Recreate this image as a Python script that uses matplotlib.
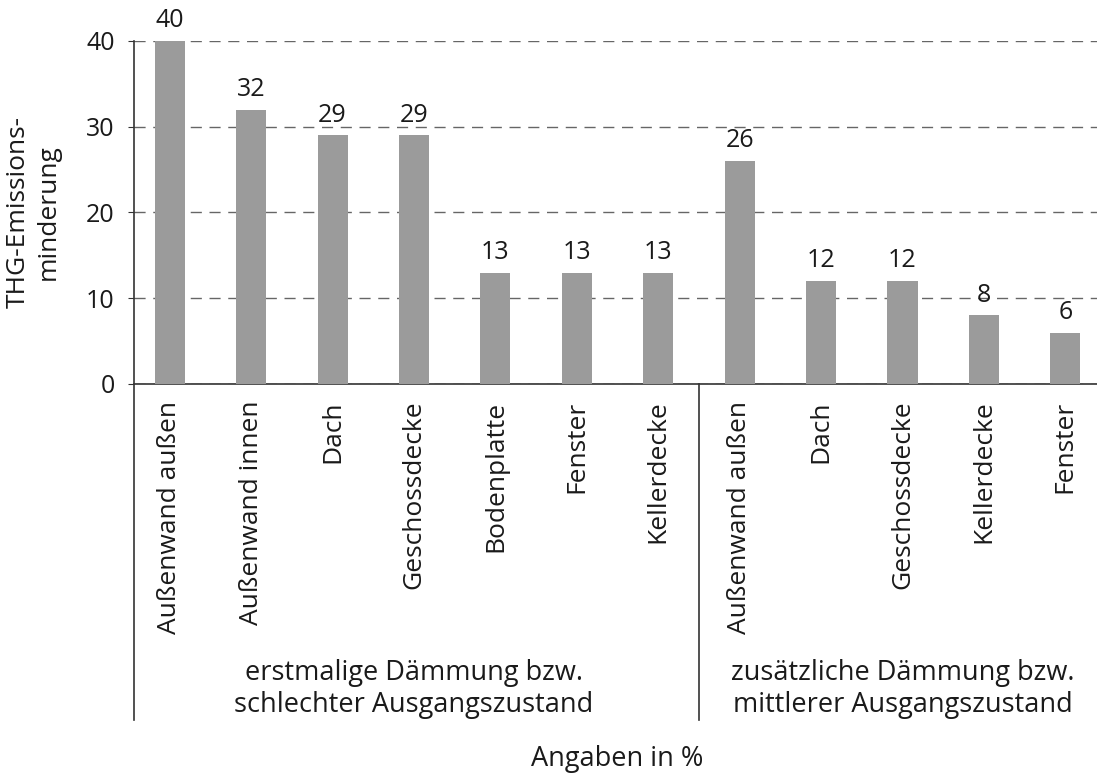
import matplotlib
matplotlib.use("Agg")
import matplotlib.pyplot as plt
import matplotlib.transforms as mtransforms

plt.rcParams['font.family'] = ['Open Sans', 'DejaVu Sans']

categories = ["Außenwand außen", "Außenwand innen", "Dach", "Geschossdecke",
              "Bodenplatte", "Fenster", "Kellerdecke",
              "Außenwand außen", "Dach", "Geschossdecke", "Kellerdecke", "Fenster"]
values = [40, 32, 29, 29, 13, 13, 13, 26, 12, 12, 8, 6]
group_labels = ["erstmalige Dämmung bzw.\nschlechter Ausgangszustand",
                "zusätzliche Dämmung bzw.\nmittlerer Ausgangszustand"]
group_sizes = [7, 5]
yticks = [0, 10, 20, 30, 40]

TXT = "#1a1a1a"
fig = plt.figure(figsize=(10.97, 7.73), dpi=100)
ax = fig.add_axes([134/1097, 1-384/773, 1-134/1097, (384-41)/773])

x = list(range(len(values)))
ax.bar(x, values, width=0.37, color="#9b9b9b", zorder=3)
for xi, v in zip(x, values):
    ax.text(xi, v + 0.9, str(v), ha="center", va="bottom", fontsize=18, color=TXT)

ax.set_xlim(-0.44, len(values) - 0.61)
ax.set_ylim(0, 40)
ax.set_yticks(yticks)
ax.set_yticklabels([str(t) for t in yticks], fontsize=18, color=TXT)
ax.tick_params(axis="y", length=4, pad=10, color="#333333")
ax.set_xticks(x)
ax.set_xticklabels(categories, rotation=90, fontsize=19, color=TXT, va="top")
ax.tick_params(axis="x", length=0, pad=12)

ax.yaxis.grid(True, linestyle=(0, (8, 5.5)), color="#666666", linewidth=1.0, zorder=0)
ax.set_axisbelow(True)
for s in ["top", "right", "left"]:
    ax.spines[s].set_visible(False)
ax.spines["bottom"].set_color("#333333")
ax.spines["bottom"].set_linewidth(1.2)

trans = mtransforms.blended_transform_factory(ax.transData, ax.transAxes)
ybot = (384 - 720) / (384 - 41)
xl = ax.get_xlim()[0]
ax.plot([xl, xl], [1.0, ybot], transform=trans, color="#333333", lw=1.2, clip_on=False)
sep = group_sizes[0] - 0.5
ax.plot([sep, sep], [0, ybot], transform=trans, color="#333333", lw=1.2, clip_on=False)

start = 0
for lab, n in zip(group_labels, group_sizes):
    center = start + (n - 1) / 2
    ax.text(center, (384 - 689) / (384 - 41), lab, transform=trans, ha="center", va="center",
            fontsize=19.5, color=TXT, linespacing=1.15)
    start += n

ax.set_ylabel("THG-Emissions-\nminderung", fontsize=19, color=TXT, labelpad=18, linespacing=1.25)
fig.text(617/1097, 1 - 766/773, "Angaben in %", ha="center", va="baseline", fontsize=19.5, color=TXT)

fig.savefig("out.png", dpi=100)
